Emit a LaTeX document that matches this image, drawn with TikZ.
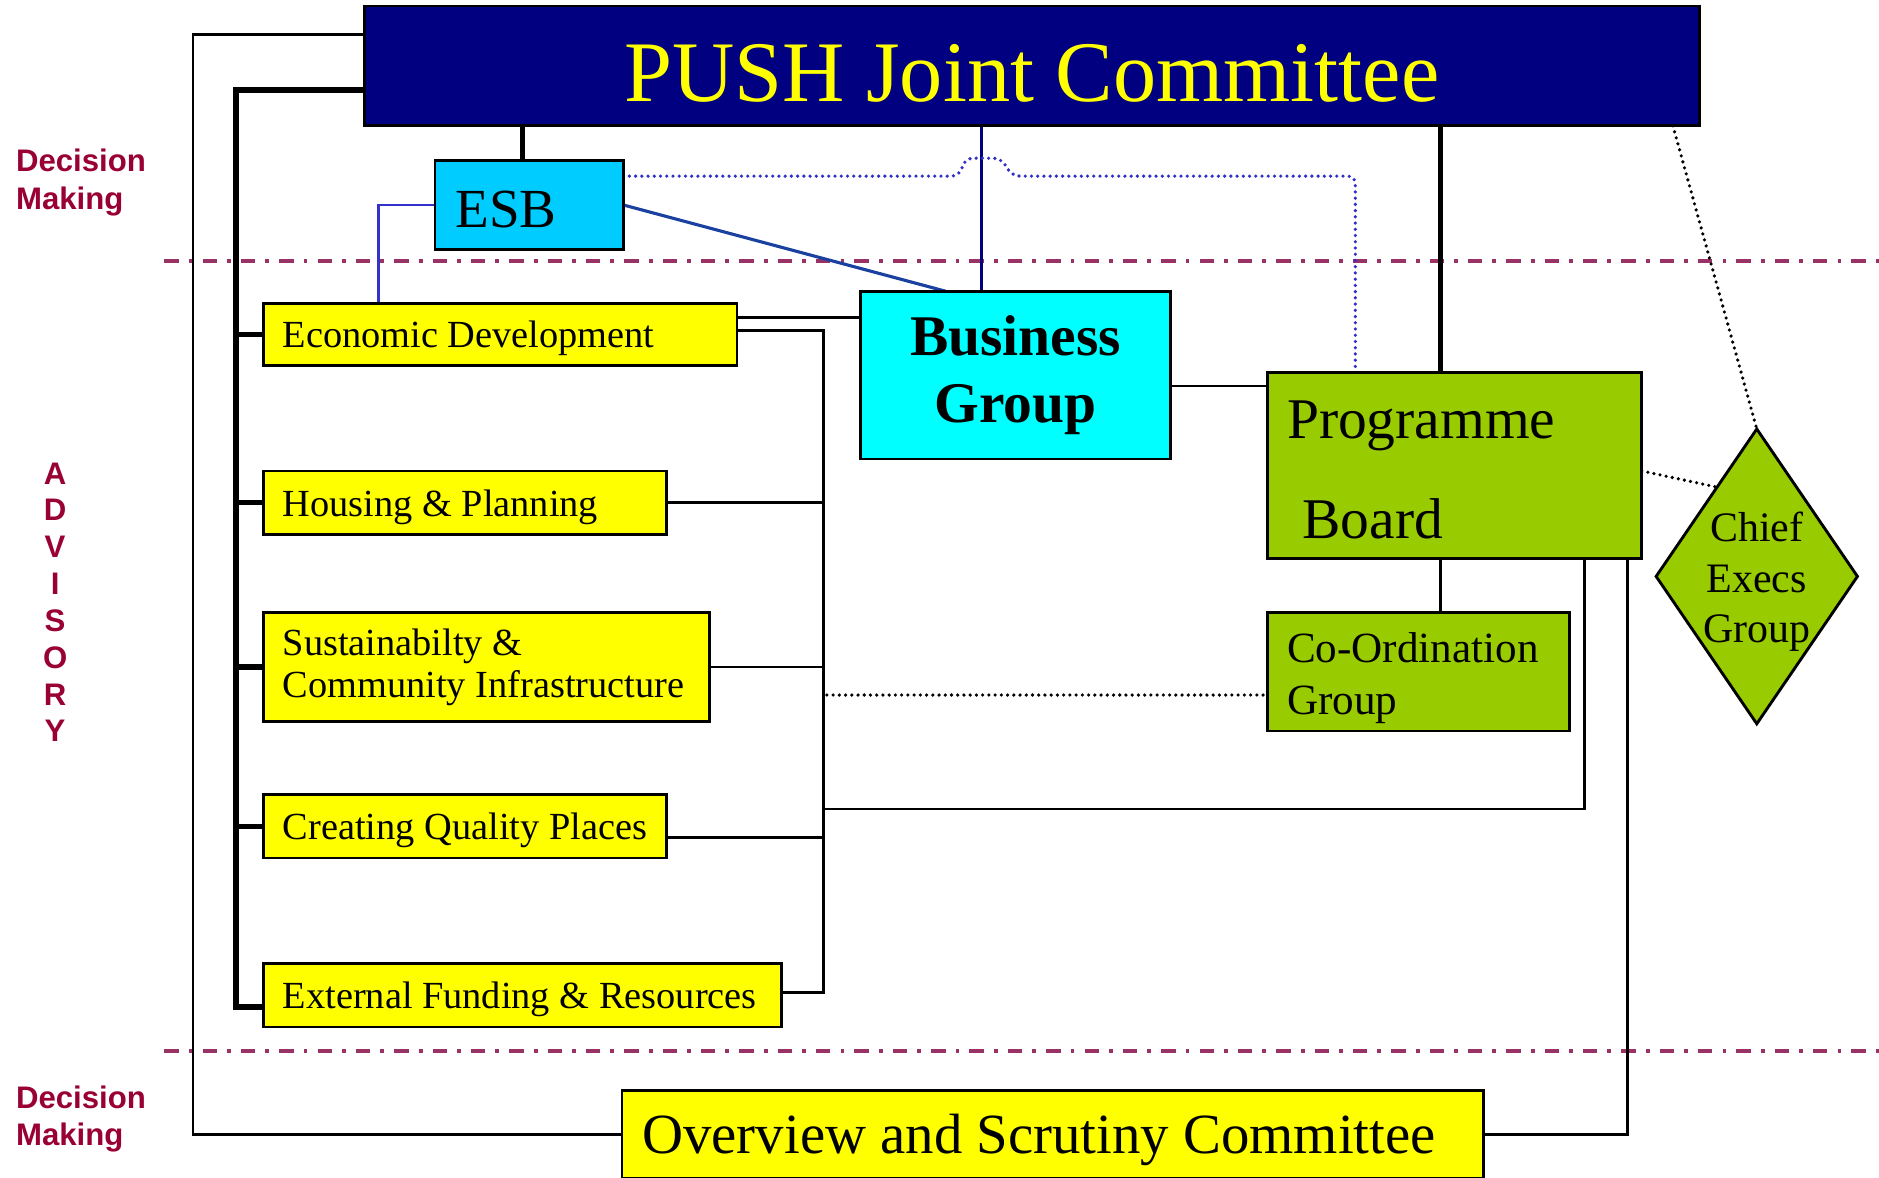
\documentclass[tikz,border=0pt]{standalone}
\usepackage{fontspec}
\setmainfont{Liberation Serif}
\newfontfamily\labelfont{Liberation Sans}
\usetikzlibrary{shapes.geometric,calc}
\pgfdeclarelayer{back}
\pgfsetlayers{back,main}

\definecolor{pushnavy}{HTML}{000080}
\definecolor{pushyellow}{HTML}{FFFF00}
\definecolor{esbblue}{HTML}{00CCFF}
\definecolor{bgcyan}{HTML}{00FFFF}
\definecolor{pbgreen}{HTML}{99CC00}
\definecolor{boxyellow}{HTML}{FFFF00}
\definecolor{bandline}{HTML}{993366}
\definecolor{labelred}{HTML}{990033}
\definecolor{linkblue}{HTML}{1A40A0}
\definecolor{esbline}{HTML}{3333CC}
\definecolor{dotblue}{HTML}{3030C8}

\newcommand{\boxindent}{\hspace*{8pt}}

\begin{document}
\begin{tikzpicture}[x=0.5pt, y=-0.5pt,
  orgbox/.style={draw=black, line width=1.2pt, rectangle, anchor=north west,
                 outer sep=0pt, inner sep=0pt},
  leftbox/.style={orgbox, align=flush left},
  ybox/.style={leftbox, fill=boxyellow, font=\fontsize{16}{17.5}\selectfont},
  link/.style={line width=1.1pt},
  heavy/.style={line width=2.3pt},
  band/.style={draw=bandline, line width=1.5pt,
               dash pattern=on 6pt off 4.2pt on 1.6pt off 4.2pt},
  dotlink/.style={line width=1.5pt, line cap=round, dash pattern=on 0pt off 2.6pt},
  sidelabel/.style={font=\labelfont\bfseries\fontsize{13}{16}\selectfont,
                    text=labelred, inner sep=0pt, text width=70pt,
                    align=flush left, anchor=base west},
]
\useasboundingbox (0,0) rectangle (1568,983);

% ---------- boxes ----------
\node[orgbox, fill=pushnavy, text=pushyellow, minimum width=557pt, minimum height=50pt,
      font=\fontsize{36}{40}\selectfont, text height=30pt, text depth=0pt]
  (push) at (304,5) {PUSH Joint Committee};

\node[leftbox, fill=esbblue, minimum width=78.5pt, minimum height=37pt, text width=78.5pt,
      font=\fontsize{23}{26}\selectfont, text height=19pt, text depth=0pt]
  (esb) at (363,134) {\hspace*{8.5pt}ESB};

\node[orgbox, fill=bgcyan, minimum width=129.5pt, minimum height=70pt, align=center,
      font=\bfseries\fontsize{24}{28}\selectfont]
  (bg) at (718,243) {Business\\Group};

\node[leftbox, fill=pbgreen, minimum width=156pt, minimum height=77.5pt, text width=156pt,
      font=\fontsize{24}{42}\selectfont, text height=19.5pt]
  (pb) at (1058,311) {\boxindent Programme\\\hspace*{14.5pt}Board};

\node[leftbox, fill=pbgreen, minimum width=126pt, minimum height=49.5pt, text width=126pt,
      font=\fontsize{18}{21.5}\selectfont, text height=17.9pt]
  (cog) at (1058,511) {\boxindent Co-Ordination\\\boxindent Group};

\node[diamond, draw=black, line width=1.2pt, fill=pbgreen, minimum width=84pt,
      minimum height=123pt, inner sep=0pt, outer sep=0pt, aspect=1,
      font=\fontsize{17.5}{21}\selectfont, text height=17pt]
  (ceg) at (1466,481) {\makebox[10pt]{\parbox[t]{60pt}{\centering Chief\\Execs\\Group}}};

\node[ybox, minimum width=197.5pt, minimum height=26pt, text width=197.5pt, text depth=0pt]
  (ed) at (220,253) {\boxindent Economic Development};
\node[ybox, minimum width=168pt, minimum height=26.5pt, text width=168pt, text depth=0pt]
  (hp) at (220,393) {\boxindent Housing \& Planning};
\node[ybox, minimum width=186pt, minimum height=45.5pt, text width=186pt]
  (sci) at (220,511) {\boxindent Sustainabilty \&\\\boxindent Community Infrastructure};
\node[ybox, minimum width=168pt, minimum height=26.5pt, text width=168pt, text depth=0pt]
  (cqp) at (220,663) {\boxindent Creating Quality Places};
\node[ybox, minimum width=216pt, minimum height=26.5pt, text width=216pt, text depth=0pt]
  (efr) at (220,804) {\boxindent External Funding \& Resources};

\node[leftbox, fill=boxyellow, minimum width=359.5pt, minimum height=36.5pt,
      text width=359.5pt, text depth=0pt, font=\fontsize{23.7}{27}\selectfont]
  (osc) at (519,910) {\hspace*{8.5pt}Overview and Scrutiny Committee};

% ---------- side labels ----------
\node[sidelabel] (dmtop) at (13,143) {Decision\\Making};
\node[sidelabel, text width=20pt, align=center, anchor=base,
      font=\labelfont\bfseries\fontsize{13}{15.36}\selectfont]
  (adv) at (46,404) {A\\D\\V\\I\\S\\O\\R\\Y};
\node[sidelabel, font=\labelfont\bfseries\fontsize{13}{15.5}\selectfont]
  (dmbot) at (13,925) {Decision\\Making};

% ---------- connectors ----------
\begin{pgfonlayer}{back}
  % band separators
  \draw[band] (137,218) -- (1568,218);
  \draw[band] (137,877) -- (1568,877);

  % links up into the committee
  \coordinate (esbtop) at ($(esb.north west)+(73,0)$);
  \draw[heavy] (esbtop) -- (esbtop |- push.south);
  \coordinate (bgtop) at ($(bg.north west)+(101,0)$);
  \draw[link, draw=pushnavy] (bgtop) -- (bgtop |- push.south);
  \coordinate (pbtop) at ($(pb.north west)+(144,0)$);
  \draw[heavy] (pbtop) -- (pbtop |- push.south);

  % ESB links
  \draw[line width=1.3pt, draw=linkblue] (esb.east) -- ($(bg.north west)+(71,0)$);
  \draw[link, draw=esbline] (esb.west) -| ($(ed.north west)+(96,0)$);

  % dotted ESB to Programme Board, hopping over the navy line
  \coordinate (dotstart) at ($(esb.north east)+(0,13)$);
  \coordinate (dotend) at ($(pb.north west)+(73,0)$);
  \coordinate (hop) at (dotstart -| bgtop);
  \draw[dotlink, draw=dotblue, rounded corners=3pt] (dotstart) -- ($(hop)+(-19,0)$)
     -- ($(hop)+(-13,-15)$) -- ($(hop)+(16,-15)$)
     -- ($(hop)+(26,0)$) -- (hop -| dotend) -- (dotend);

  % Chief Execs links
  \draw[dotlink] ($(push.south east)+(-22,0)$) -- (ceg.north);
  \draw[dotlink] ($(pb.north east)+(0,82)$) -- (ceg.114);

  % Business Group / Programme Board / Co-ordination
  \coordinate (bgpb) at ($(pb.north west)+(0,11)$);
  \draw[link] (bgpb -| bg.east) -- (bgpb);
  \draw[link] (cog.north -| pbtop) -- (pb.south -| pbtop);

  % left bus from the committee to the advisory groups
  \coordinate (lbus) at ($(ed.west)+(-23,0)$);
  \draw[heavy] ($(push.north west)+(0,70)$) -| ($(efr.west)+(-23,10)$) -- ($(efr.west)+(0,10)$);
  \foreach \g in {ed,hp,sci,cqp} \draw[heavy] (\g.west) -- (\g.west -| lbus);

  % outer loop through Overview and Scrutiny
  \draw[link] ($(push.north west)+(0,24)$) -| ($(osc.west)+(-358,0)$) -- (osc.west);
  \draw[link] (osc.east) -| ($(pb.south east)+(-12,0)$);

  % right bus gathering the advisory groups
  \coordinate (rbus) at ($(efr.east)+(35,0)$);
  \draw[link] ($(ed.east)+(0,-3)$) -| ($(efr.east)+(35,-2.5)$) -- ($(efr.east)+(0,-2.5)$);
  \draw[link] (hp.east) -- (hp.east -| rbus);
  \draw[link] (sci.east) -- (sci.east -| rbus);
  \coordinate (cqpout) at ($(cqp.east)+(0,9.5)$);
  \draw[link] (cqpout) -- (cqpout -| rbus);
  \coordinate (edbg) at ($(ed.east)+(0,-14)$);
  \draw[link] (edbg) -- (edbg -| bg.west);
  \coordinate (rbuspb) at ($(cqp.north)+(0,12)$);
  \draw[link] (rbuspb -| rbus) -| ($(pb.south east)+(-48,0)$);
  \coordinate (cogdot) at ($(cog.west)+(0,19.5)$);
  \draw[dotlink] ($(cogdot -| rbus)+(3,0)$) -- (cogdot);
\end{pgfonlayer}
\end{tikzpicture}
\end{document}
